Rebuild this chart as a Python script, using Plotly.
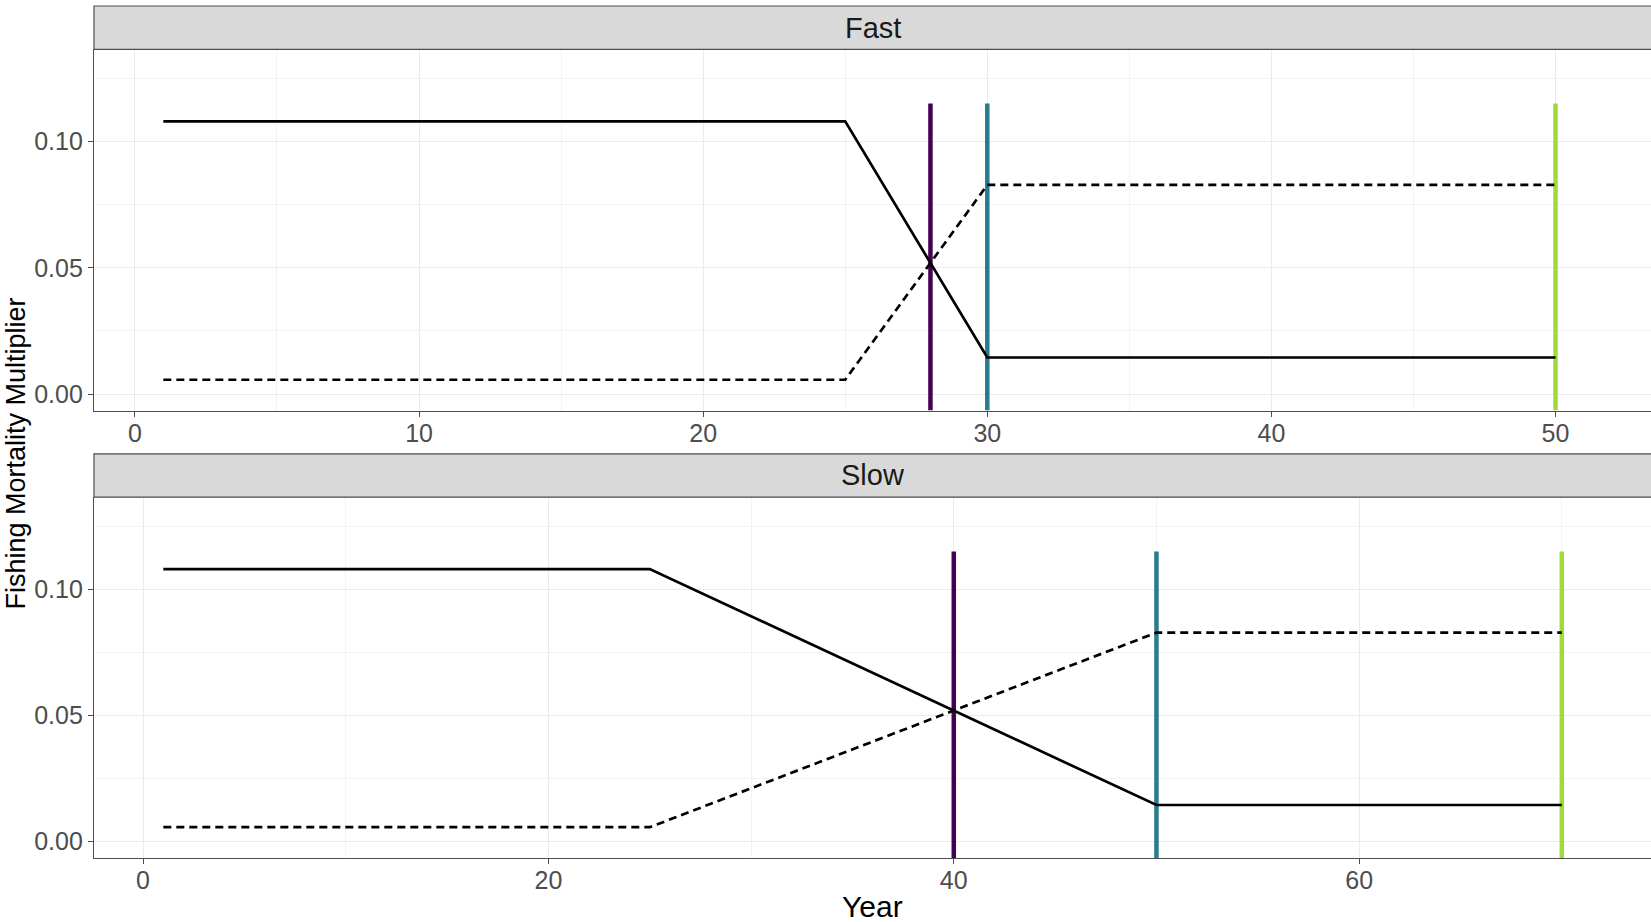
import plotly.graph_objects as go

# ---- data ----
fast_years = [1, 25, 30, 50]
slow_years = [1, 25, 50, 70]
decline_values = [0.108, 0.108, 0.0145, 0.0145]
increase_values = [0.0057, 0.0057, 0.0828, 0.0828]
fast_markers = [28, 30, 50]
slow_markers = [40, 50, 70]
marker_colors = ["#440154", "#287C8E", "#A0DA39"]
marker_top = 0.115
panel_titles = ["Fast", "Slow"]
y_ticks = [0.0, 0.05, 0.10]
y_ticklabels = ["0.00", "0.05", "0.10"]

FONT = "Liberation Sans, Arial, Helvetica, sans-serif"
Y_RANGE = [-0.0065, 0.1365]

fig = go.Figure()

panels = [
    dict(years=fast_years, markers=fast_markers, xa="x", ya="y"),
    dict(years=slow_years, markers=slow_markers, xa="x2", ya="y2"),
]

for p in panels:
    for m, c in zip(p["markers"], marker_colors):
        fig.add_trace(go.Scatter(x=[m, m], y=[Y_RANGE[0], marker_top], mode="lines",
                                 line=dict(color=c, width=4.5), xaxis=p["xa"], yaxis=p["ya"],
                                 showlegend=False, hoverinfo="skip"))
    fig.add_trace(go.Scatter(x=p["years"], y=increase_values, mode="lines",
                             line=dict(color="black", width=2.7, dash="8px,5px"),
                             xaxis=p["xa"], yaxis=p["ya"], showlegend=False))
    fig.add_trace(go.Scatter(x=p["years"], y=decline_values, mode="lines",
                             line=dict(color="black", width=2.7),
                             xaxis=p["xa"], yaxis=p["ya"], showlegend=False))

H_TOTAL = 852.3
def py(pix):
    return (858.3 - pix) / H_TOTAL

top_dom = [py(410.7), py(49.3)]
bot_dom = [py(858.3), py(497.3)]

axis_common = dict(showgrid=True, gridcolor="#EBEBEB", gridwidth=1.2, zeroline=False,
                   showline=True, linecolor="#4D4D4D", linewidth=1.2,
                   ticks="outside", ticklen=5, tickcolor="#4D4D4D", tickwidth=1.2,
                   tickfont=dict(family=FONT, size=25, color="#4D4D4D"))

fig.update_layout(
    width=1651, height=922,
    margin=dict(l=94, r=0, t=6, b=63.7),
    paper_bgcolor="white", plot_bgcolor="white",
    xaxis=dict(domain=[0, 1], range=[-1.44, 53.36], tickmode="linear", tick0=0, dtick=10,
               minor=dict(dtick=5, tick0=0, showgrid=True, gridcolor="#F3F3F3", gridwidth=1, ticks=""),
               ticklabelstandoff=-5, anchor="y", **axis_common),
    yaxis=dict(domain=top_dom, range=Y_RANGE, tickvals=y_ticks, ticktext=y_ticklabels,
               minor=dict(tickvals=[0.025, 0.075, 0.125], showgrid=True, gridcolor="#F3F3F3", gridwidth=1, ticks=""),
               anchor="x", **axis_common),
    xaxis2=dict(domain=[0, 1], range=[-2.42, 74.4], tickmode="linear", tick0=0, dtick=20,
                minor=dict(dtick=10, tick0=0, showgrid=True, gridcolor="#F3F3F3", gridwidth=1, ticks=""),
                ticklabelstandoff=-5, anchor="y2", **axis_common),
    yaxis2=dict(domain=bot_dom, range=Y_RANGE, tickvals=y_ticks, ticktext=y_ticklabels,
                minor=dict(tickvals=[0.025, 0.075, 0.125], showgrid=True, gridcolor="#F3F3F3", gridwidth=1, ticks=""),
                anchor="x2", **axis_common),
)

# facet strips
strips = [(py(49.3), py(6)), (py(497.3), py(454))]
for (y0, y1), title in zip(strips, panel_titles):
    fig.add_shape(type="rect", xref="paper", yref="paper", x0=0, x1=1.01, y0=y0, y1=y1,
                  fillcolor="#D9D9D9", line=dict(color="#4D4D4D", width=1.2), layer="above")
    fig.add_annotation(xref="paper", yref="paper", x=0.5, y=(y0 + y1) / 2, text=title,
                       showarrow=False, xanchor="center", yanchor="middle",
                       font=dict(family=FONT, size=29, color="#1A1A1A"))

fig.add_annotation(xref="paper", yref="paper", x=0.5, y=py(907), text="Year", showarrow=False,
                   xanchor="center", yanchor="middle", font=dict(family=FONT, size=30, color="black"))
fig.add_annotation(xref="paper", yref="paper", x=(16 - 94) / 1557, y=py(453.7),
                   text="Fishing Mortality Multiplier", showarrow=False, textangle=-90,
                   xanchor="center", yanchor="middle", font=dict(family=FONT, size=27, color="black"))

fig.write_html("out.html")
